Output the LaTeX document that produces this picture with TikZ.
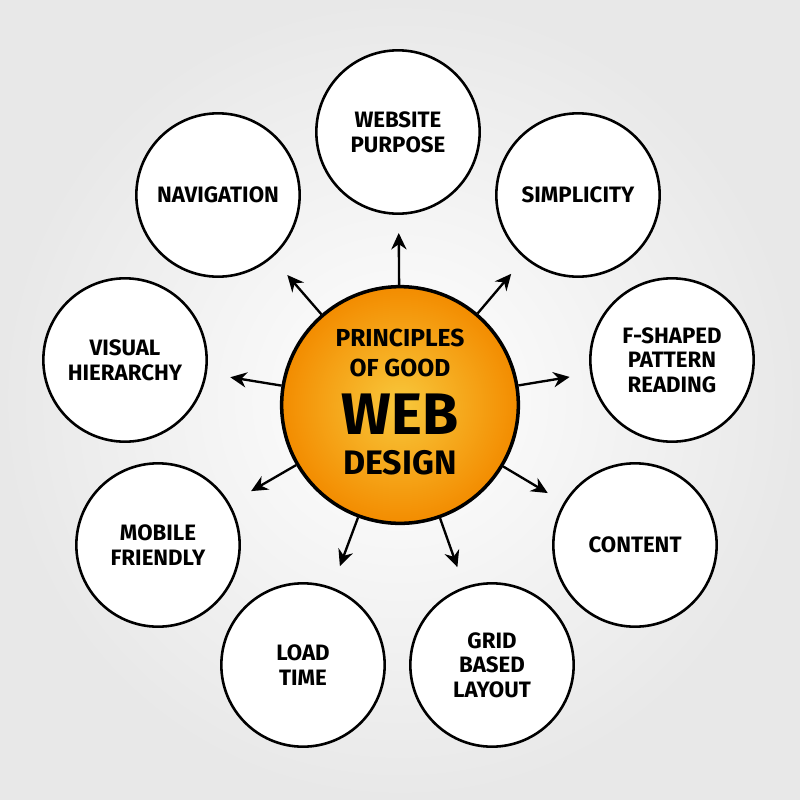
\documentclass[tikz,border=0pt]{standalone}
\usepackage{fontspec}
\setmainfont{Fira Sans}
\usetikzlibrary{arrows.meta,calc}
\definecolor{cin}{RGB}{248,200,60}
\definecolor{cout}{RGB}{243,140,0}
\begin{document}
\begin{tikzpicture}[x=0.03cm,y=-0.03cm,
  outer/.style={circle,draw=black,line width=2.2pt,fill=white,minimum size=4.9cm,inner sep=0pt,align=center,font=\fontsize{19}{21}\selectfont\bfseries},
  ct/.style={inner sep=0pt,font=\bfseries},
  arr/.style={-{Stealth[length=14pt,width=13pt]},line width=2pt}]
\useasboundingbox (0,0) rectangle (800,800);
\shade[inner color=white,outer color=gray!18] (0,0) rectangle (800,800);
\node[circle,draw=black,line width=3pt,minimum size=7.1cm,inner sep=0pt,inner color=cin,outer color=cout] (c) at (400,405) {};
\node[ct,font=\fontsize{21}{22}\selectfont\bfseries] (t1) at (400,338) {PRINCIPLES};
\node[ct,font=\fontsize{21}{22}\selectfont\bfseries] (t2) at (400,368) {OF GOOD};
\node[ct,font=\fontsize{50}{50}\selectfont\bfseries] (t3) at (400,414) {WEB};
\node[ct,font=\fontsize{29}{30}\selectfont\bfseries] (t4) at (400,463) {DESIGN};
\node[outer] (n1) at (398,132) {WEBSITE\\PURPOSE};
\node[outer] (n2) at (578,195) {SIMPLICITY};
\node[outer] (n3) at (672,360) {F-SHAPED\\PATTERN\\READING};
\node[outer] (n4) at (635,545) {CONTENT};
\node[outer] (n5) at (492,665) {GRID\\BASED\\LAYOUT};
\node[outer] (n6) at (303,665) {LOAD\\TIME};
\node[outer] (n7) at (158,545) {MOBILE\\FRIENDLY};
\node[outer] (n8) at (125,360) {VISUAL\\HIERARCHY};
\node[outer] (n9) at (218,195) {NAVIGATION};
\foreach \n in {n1,n2,n3,n4,n5,n6,n7,n8,n9}{
  \draw[arr] ($(c.center)!3.6cm!(\n.center)$) -- ($(c.center)!5.16cm!(\n.center)$);
}
\end{tikzpicture}
\end{document}
